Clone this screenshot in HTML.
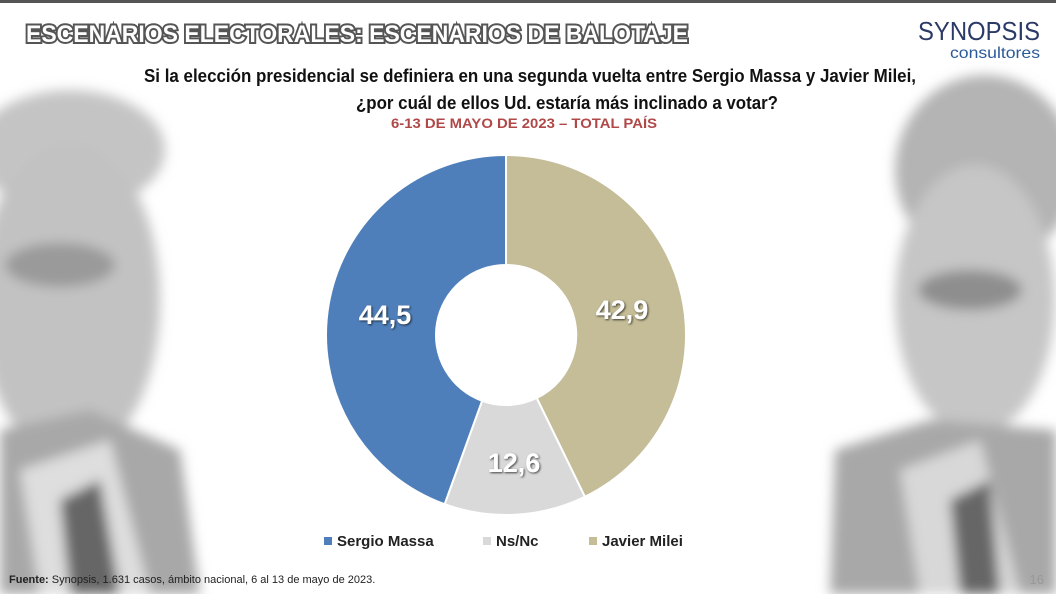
<!DOCTYPE html>
<html><head><meta charset="utf-8"><style>
body{margin:0;width:1056px;height:594px;overflow:hidden;background:#fff;font-family:"Liberation Sans",sans-serif;}
</style></head><body>
<svg width="1056" height="594" viewBox="0 0 1056 594" xmlns="http://www.w3.org/2000/svg">
<defs>
<filter id="b" x="-20%" y="-20%" width="140%" height="140%"><feGaussianBlur stdDeviation="6"/></filter>
<filter id="sh"><feDropShadow dx="1" dy="1" stdDeviation="1" flood-color="#000" flood-opacity="0.7"/></filter>
</defs>
<rect width="1056" height="594" fill="#fff"/>
<rect width="1056" height="3" fill="#555"/>
<g filter="url(#b)">
<ellipse cx="70" cy="150" rx="95" ry="60" fill="#c4c4c4"/>
<ellipse cx="70" cy="300" rx="90" ry="160" fill="#c2c2c2"/>
<ellipse cx="60" cy="265" rx="55" ry="22" fill="#9a9a9a"/>
<path d="M0 430 L90 410 L180 450 L200 594 L0 594Z" fill="#a8a8a8"/>
<path d="M20 470 L110 440 L150 594 L40 594Z" fill="#dedede"/>
<path d="M60 500 L100 480 L120 594 L70 594Z" fill="#666"/>
</g>
<g filter="url(#b)">
<ellipse cx="985" cy="170" rx="90" ry="95" fill="#b4b4b4"/>
<ellipse cx="975" cy="300" rx="80" ry="135" fill="#c6c6c6"/>
<ellipse cx="970" cy="290" rx="52" ry="20" fill="#8e8e8e"/>
<path d="M835 450 L930 420 L1056 430 L1056 594 L830 594Z" fill="#a8a8a8"/>
<path d="M900 470 L980 440 L1020 594 L920 594Z" fill="#d8d8d8"/>
<path d="M950 500 L990 480 L1000 594 L960 594Z" fill="#666"/>
</g>
<text x="26" y="42" font-family="Liberation Sans" font-weight="bold" font-size="24" fill="#fff" stroke="#555" stroke-width="4" paint-order="stroke" textLength="662" lengthAdjust="spacingAndGlyphs">ESCENARIOS ELECTORALES: ESCENARIOS DE BALOTAJE</text>
<text x="918" y="40" font-size="26" fill="#2b3a66" textLength="122" lengthAdjust="spacingAndGlyphs">SYNOPSIS</text>
<text x="950" y="58" font-size="16" fill="#2b5a9a" textLength="90" lengthAdjust="spacingAndGlyphs">consultores</text>
<text x="144" y="82" font-weight="bold" font-size="18" fill="#111" textLength="772" lengthAdjust="spacingAndGlyphs">Si la elección presidencial se definiera en una segunda vuelta entre Sergio Massa y Javier Milei,</text>
<text x="356" y="109" font-weight="bold" font-size="18" fill="#111" textLength="422" lengthAdjust="spacingAndGlyphs">¿por cuál de ellos Ud. estaría más inclinado a votar?</text>
<text x="391" y="128" font-weight="bold" font-size="14" fill="#b04848" textLength="266" lengthAdjust="spacingAndGlyphs">6-13 DE MAYO DE 2023 – TOTAL PAÍS</text>
<path d="M506 155 A180 180 0 0 1 584.9 496.8 L536.7 398.0 A70 70 0 0 0 506 265 Z" fill="#c4bd97" stroke="#fff" stroke-width="2"/>
<path d="M584.9 496.8 A180 180 0 0 1 444.6 504.2 L482.1 400.8 A70 70 0 0 0 536.7 398.0 Z" fill="#d9d9d9" stroke="#fff" stroke-width="2"/>
<path d="M444.6 504.2 A180 180 0 0 1 506 155 L506 265 A70 70 0 0 0 482.1 400.8 Z" fill="#4f7fba" stroke="#fff" stroke-width="2"/>
<g font-weight="bold" font-size="27" fill="#fff" filter="url(#sh)">
<text x="385" y="324" text-anchor="middle">44,5</text>
<text x="622" y="319" text-anchor="middle">42,9</text>
<text x="514" y="472" text-anchor="middle">12,6</text>
</g>
<rect x="324" y="537" width="8" height="8" fill="#4f7fba"/>
<text x="337" y="546" font-weight="bold" font-size="15" fill="#222">Sergio Massa</text>
<rect x="483" y="537" width="8" height="8" fill="#d9d9d9"/>
<text x="496" y="546" font-weight="bold" font-size="15" fill="#222">Ns/Nc</text>
<rect x="589" y="537" width="8" height="8" fill="#c4bd97"/>
<text x="602" y="546" font-weight="bold" font-size="15" fill="#222">Javier Milei</text>
<text x="9" y="583" font-size="11" fill="#222"><tspan font-weight="bold">Fuente:</tspan> Synopsis, 1.631 casos, ámbito nacional, 6 al 13 de mayo de 2023.</text>
<text x="1044" y="584" font-size="13" fill="#999" text-anchor="end">16</text>
</svg>
</body></html>
